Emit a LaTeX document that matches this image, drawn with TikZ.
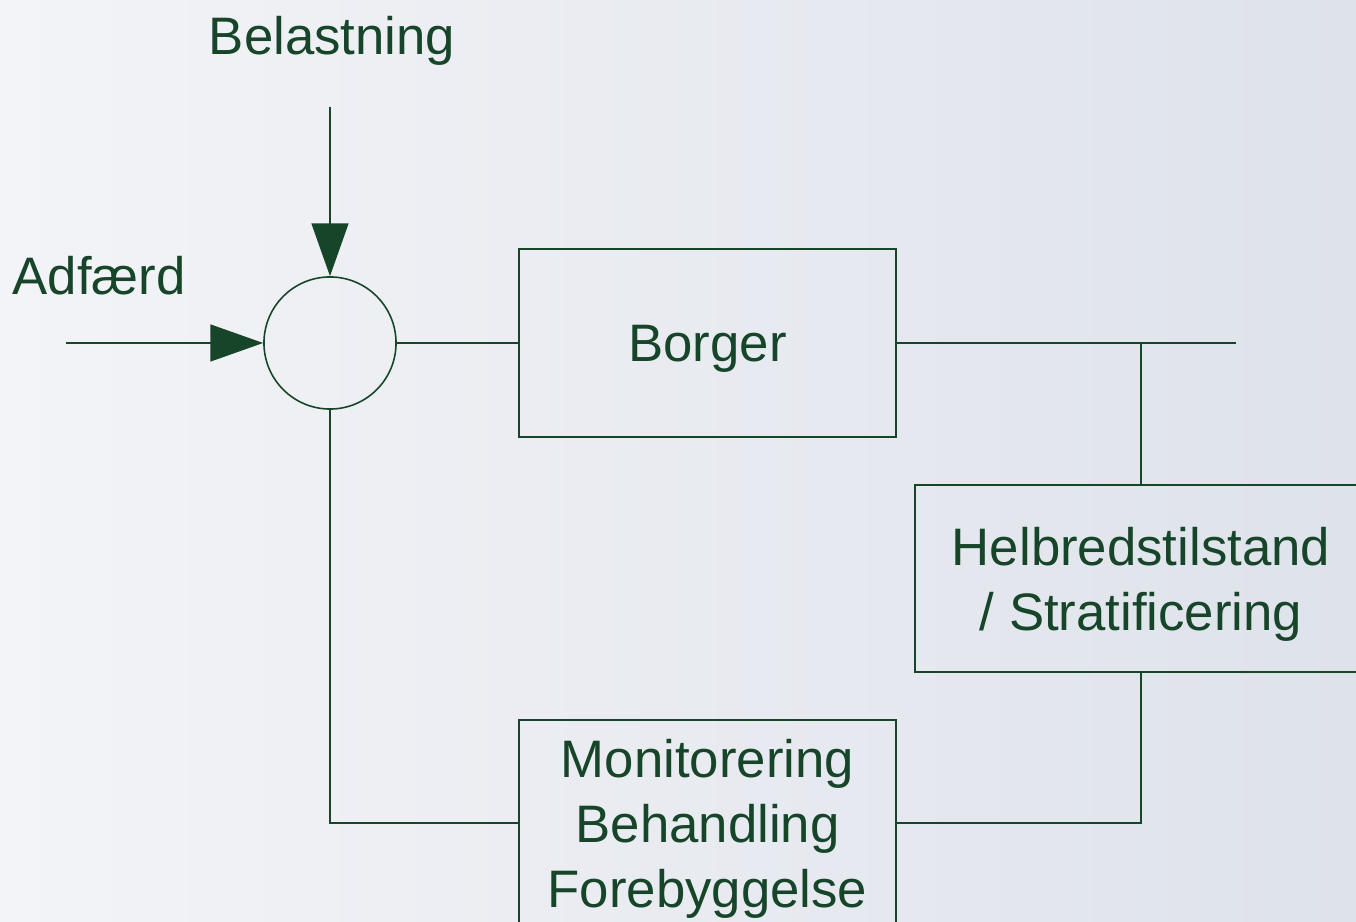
\documentclass[tikz,border=0pt]{standalone}
\usepackage{fontspec}
\setmainfont{Liberation Sans}
\usetikzlibrary{arrows.meta}
\usetikzlibrary{calc}
\definecolor{skov}{HTML}{17452A}
\definecolor{lysbg}{HTML}{F3F4F7}
\definecolor{mrkbg}{HTML}{DEE2EA}

\begin{document}
\begin{tikzpicture}[x=0.01cm, y=-0.01cm,
        tekst/.style={text=skov, font=\fontsize{15pt}{18.5pt}\selectfont, align=center, text depth=0pt},
        kasse/.style={tekst, draw=skov, line width=0.45pt, inner sep=0pt},
        forb/.style={draw=skov, line width=0.45pt},
        pil/.style={forb, -{Triangle[length=15pt, width=10.5pt]}}]
            \useasboundingbox (0,0) rectangle (1356,922);
            \clip (0,0) rectangle (1356,922);
            \shade[left color=lysbg, right color=mrkbg] (0,0) rectangle (1356,922);

            \node[kasse, circle, minimum size=1.32cm] (sum) at (330,343) {};
            \node[kasse, minimum width=3.77cm, minimum height=1.88cm] (borger) at (707.5,343) {Borger};
            \node[kasse, minimum width=4.52cm, minimum height=1.87cm] (helbred) at (1141,578.5) {Helbredstilstand\\/ Stratificering};
            \node[kasse, minimum width=3.77cm, minimum height=2.06cm] (monitor) at (707.5,823) {Monitorering\\Behandling\\Forebyggelse};

            \node[tekst] (belast) at (332,35) {Belastning};
            \node[tekst] (adfaerd) at (99,275) {Adfærd};
            \coordinate (belastind) at (330,107);
            \coordinate (adfaerdind) at (66,343);
            \coordinate (ud) at (1236,343);
            \coordinate (tap) at (1141,343);

            \draw[pil] (belastind) -- (sum.north);
            \draw[pil] (adfaerdind) -- (sum.west);
            \draw[forb] (sum.east) -- (borger.west);
            \draw[forb] (borger.east) -- (ud);
            \draw[forb] (tap) -- (helbred.north);
            \draw[forb] (helbred.south) |- (monitor.east);
            \draw[forb] (monitor.west) -| (sum.south);
        \end{tikzpicture}
\end{document}
